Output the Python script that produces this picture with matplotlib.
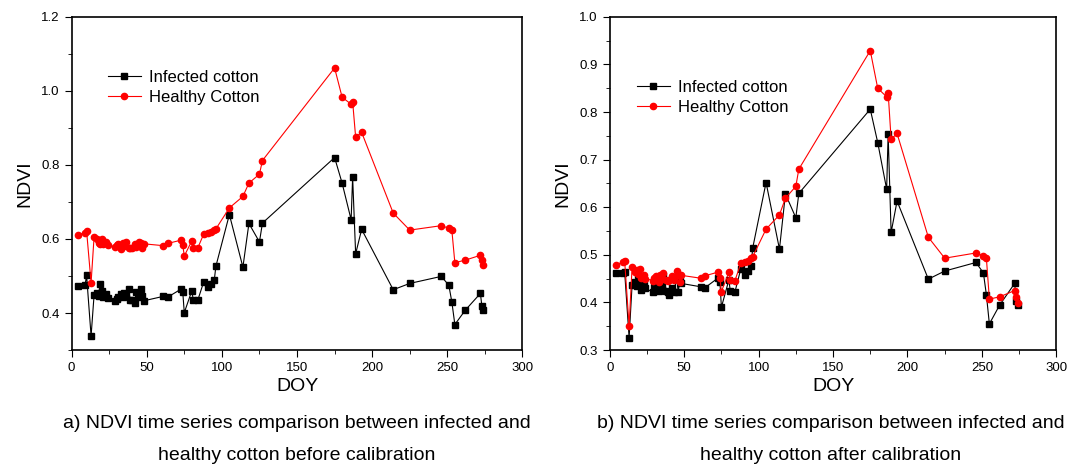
import matplotlib.pyplot as plt
import numpy as np

plt.rcParams['font.family'] = ['Liberation Sans', 'DejaVu Sans']

# shared acquisition dates (DOY)
doy = [4, 9, 10, 13, 15, 17, 18, 19, 20, 21, 23, 24,
       29, 30, 31, 33, 34, 35, 36, 38, 39, 40, 42, 43, 45, 46, 47, 48,
       61, 64, 73, 74, 75, 80, 81, 84, 88, 91, 93, 95, 96,
       105, 114, 118, 125, 127,
       175, 180, 186, 187, 189, 193,
       214, 225, 246, 251, 253, 255, 262, 272, 273, 274]

# a) before calibration
infected_before = [0.473, 0.475, 0.502, 0.338, 0.449, 0.453, 0.446, 0.478, 0.460, 0.442, 0.451, 0.440,
                   0.433, 0.438, 0.443, 0.452, 0.443, 0.455, 0.448, 0.466, 0.435, 0.435, 0.428, 0.458,
                   0.442, 0.464, 0.447, 0.433,
                   0.445, 0.443, 0.465, 0.456, 0.401, 0.460, 0.435, 0.435, 0.485, 0.470, 0.478, 0.490, 0.526,
                   0.666, 0.524, 0.642, 0.592, 0.643,
                   0.820, 0.751, 0.652, 0.767, 0.560, 0.626,
                   0.463, 0.480, 0.499, 0.475, 0.430, 0.369, 0.408, 0.453, 0.418, 0.409]
healthy_before = [0.611, 0.617, 0.622, 0.482, 0.606, 0.599, 0.590, 0.586, 0.599, 0.586, 0.592, 0.583,
                  0.579, 0.584, 0.586, 0.572, 0.588, 0.581, 0.593, 0.577, 0.575, 0.576, 0.586, 0.579,
                  0.593, 0.588, 0.575, 0.587,
                  0.582, 0.588, 0.597, 0.584, 0.554, 0.595, 0.577, 0.576, 0.614, 0.615, 0.618, 0.624, 0.627,
                  0.684, 0.715, 0.751, 0.775, 0.812,
                  1.062, 0.983, 0.964, 0.971, 0.875, 0.888,
                  0.670, 0.624, 0.636, 0.629, 0.624, 0.536, 0.543, 0.556, 0.542, 0.529]

# b) after calibration
infected_after = [0.461, 0.462, 0.465, 0.326, 0.437, 0.442, 0.434, 0.458, 0.445, 0.427, 0.436, 0.430,
                  0.421, 0.432, 0.437, 0.425, 0.441, 0.436, 0.455, 0.425, 0.421, 0.416, 0.430, 0.421,
                  0.451, 0.421, 0.446, 0.440,
                  0.433, 0.431, 0.452, 0.443, 0.390, 0.447, 0.424, 0.421, 0.470, 0.458, 0.467, 0.477, 0.514,
                  0.652, 0.512, 0.628, 0.578, 0.629,
                  0.806, 0.736, 0.638, 0.753, 0.547, 0.613,
                  0.449, 0.466, 0.484, 0.462, 0.416, 0.355, 0.395, 0.440, 0.404, 0.395]
healthy_after = [0.478, 0.486, 0.488, 0.350, 0.474, 0.464, 0.468, 0.460, 0.470, 0.452, 0.458, 0.450,
                 0.446, 0.452, 0.455, 0.443, 0.458, 0.450, 0.462, 0.447, 0.445, 0.447, 0.455, 0.448,
                 0.466, 0.458, 0.444, 0.457,
                 0.451, 0.456, 0.464, 0.452, 0.423, 0.463, 0.447, 0.445, 0.482, 0.484, 0.488, 0.494, 0.496,
                 0.554, 0.584, 0.619, 0.644, 0.680,
                 0.929, 0.850, 0.832, 0.841, 0.743, 0.755,
                 0.537, 0.493, 0.504, 0.498, 0.493, 0.407, 0.412, 0.425, 0.411, 0.399]

captions = ["a) NDVI time series comparison between infected and\nhealthy cotton before calibration",
            "b) NDVI time series comparison between infected and\nhealthy cotton after calibration"]

fig = plt.figure(figsize=(10.84, 4.68), dpi=100)
ax1 = fig.add_axes([0.066, 0.252, 0.416, 0.712])
ax2 = fig.add_axes([0.5625, 0.252, 0.412, 0.712])

# legend anchor (x, y) in axes fraction per panel
panels = [(ax1, infected_before, healthy_before, (0.3, 1.2), 0.2, 0.1, (0.065, 0.86)),
          (ax2, infected_after, healthy_after, (0.3, 1.0), 0.1, 0.05, (0.045, 0.83))]

for ax, inf, hea, ylim, major, minor, leg_xy in panels:
    ax.plot(doy, inf, color='black', lw=0.8, marker='s', ms=4, label='Infected cotton')
    ax.plot(doy, hea, color='red', lw=0.8, marker='o', ms=4.5, label='Healthy Cotton')
    ax.set_xlim(0, 300)
    ax.set_ylim(*ylim)
    ax.xaxis.set_major_locator(plt.MultipleLocator(50))
    ax.xaxis.set_minor_locator(plt.MultipleLocator(25))
    ax.yaxis.set_major_locator(plt.MultipleLocator(major))
    ax.yaxis.set_minor_locator(plt.MultipleLocator(minor))
    ax.tick_params(which='both', direction='out', labelsize=9.5, top=False, right=False)
    ax.tick_params(which='major', length=5)
    ax.tick_params(which='minor', length=3)
    for s in ax.spines.values():
        s.set_linewidth(1.2)
    ax.set_xlabel('DOY', fontsize=14, labelpad=3)
    ax.set_ylabel('NDVI', fontsize=14, labelpad=6)
    ax.legend(frameon=False, fontsize=12, loc='upper left', bbox_to_anchor=leg_xy,
              handlelength=2.0, handletextpad=0.5, labelspacing=0.3, borderaxespad=0)

fig.text(0.274, 0.061, captions[0], ha='center', va='center', fontsize=14, linespacing=2.1)
fig.text(0.766, 0.061, captions[1], ha='center', va='center', fontsize=14, linespacing=2.1)

fig.savefig('out.png', dpi=100)
